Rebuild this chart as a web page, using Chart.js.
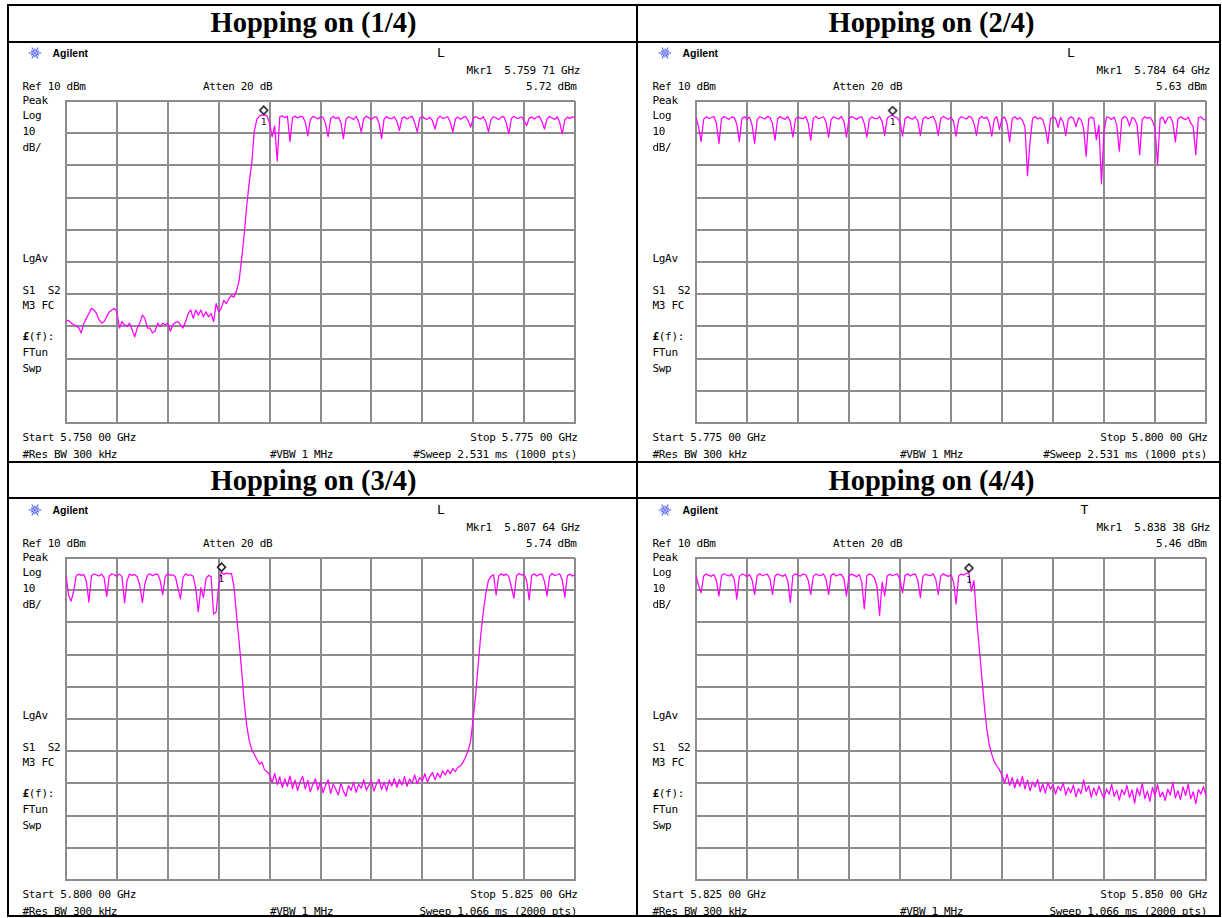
<!DOCTYPE html>
<html>
<head>
<meta charset="utf-8">
<title>Hopping on</title>
<script src="https://cdn.jsdelivr.net/npm/chart.js"></script>
<style>
  html, body { margin: 0; padding: 0; background: #fff; }
  #page { position: relative; width: 1222px; height: 918px; overflow: hidden; background: #fff; }
  .rule { position: absolute; background: #000; }
  .t { position: absolute; white-space: pre; font-family: "DejaVu Sans Mono", "Liberation Mono", monospace;
       font-size: 11px; letter-spacing: -0.32px; line-height: 1; color: #000; }
  .t b { font-weight: bold; }
  .mk { position: absolute; white-space: pre; font-family: "DejaVu Sans Mono", monospace; font-size: 9px; line-height: 1; color: #000; }
  .brand { position: absolute; white-space: pre; font-family: "Liberation Sans", Arial, sans-serif; font-weight: bold;
           font-size: 10.5px; line-height: 1; color: #000; }
  .flag { position: absolute; white-space: pre; font-family: "DejaVu Sans Mono", monospace; font-size: 13px; line-height: 1; color: #000; }
  .ttl { position: absolute; white-space: pre; font-family: "Liberation Serif", "Times New Roman", serif; font-weight: bold;
         font-size: 28.5px; line-height: 1; color: #000; }
  canvas.plot { position: absolute; }
  svg.logo { position: absolute; }
</style>
</head>
<body>
<div id="page"></div>
<script>
// ---- sweep settings (MHz) ----
const freqStartMHz = [5750, 5775, 5800, 5825];
const freqStopMHz  = [5775, 5800, 5825, 5850];
const sweepStepMHz = 0.125;            // 201 display bins per 25 MHz span
const refLevel = 10, dbPerDiv = 10, divisions = 10;

// ---- trace levels (dBm), one value per display bin ----
const traceHop1 = [
  -58.4,-58.1,-59.0,-59.4,-59.8,-60.5,-62.0,-59.0,-57.5,-56.0,
  -54.4,-54.9,-56.0,-58.0,-59.0,-58.5,-56.9,-55.5,-54.9,-54.4,
  -55.5,-60.5,-58.5,-59.5,-60.0,-59.0,-61.1,-63.2,-60.5,-59.0,
  -56.5,-57.5,-60.5,-60.5,-62.0,-61.5,-59.0,-60.0,-59.0,-59.5,
  -59.0,-61.5,-59.5,-58.8,-58.5,-59.5,-60.5,-58.5,-56.0,-54.9,
  -57.5,-54.9,-56.5,-54.9,-57.0,-55.5,-57.0,-56.0,-58.5,-52.9,
  -55.5,-54.4,-51.9,-52.9,-51.4,-50.4,-50.9,-48.9,-45.9,-39.2,
  -31.7,-22.7,-15.2,-9.2,0.7,4.3,5.4,5.6,5.7,5.4,
  3.1,-1.1,2.2,-8.6,5.1,5.4,4.8,5.3,-2.6,4.8,
  5.3,4.7,5.2,5.1,3.5,-0.8,4.2,5.2,4.9,4.4,
  5.1,5.0,2.9,-1.1,4.6,5.2,4.5,5.0,3.4,-1.7,
  4.3,5.1,4.7,4.3,5.2,3.6,0.4,4.5,5.3,4.8,
  4.2,5.0,5.1,3.1,-1.7,4.4,5.2,4.6,4.5,5.1,
  3.7,0.8,4.6,5.1,4.4,4.9,5.2,3.3,0.4,4.7,
  5.2,4.5,4.3,5.0,3.8,1.3,4.5,5.3,4.6,4.8,
  5.1,3.4,0.4,4.4,5.0,4.3,4.9,5.2,3.9,1.9,
  4.6,5.2,4.7,4.4,5.1,3.5,0.4,4.3,5.1,4.8,
  4.2,5.0,5.2,3.2,-0.2,4.5,5.3,4.6,4.7,5.1,
  3.9,2.3,4.7,5.0,4.4,5.0,5.2,3.6,1.3,4.4,
  5.2,4.7,4.3,5.1,3.3,-0.2,4.1,5.0,4.6,5.1,
  4.9
];
const traceHop2 = [
  4.8,2.0,-2.6,4.3,5.1,4.6,4.8,5.2,3.1,-3.2,
  4.5,5.2,4.7,4.3,5.0,4.9,2.8,-2.6,4.6,5.1,
  4.4,5.0,2.5,-3.2,4.2,5.1,4.8,4.4,5.2,4.9,
  3.0,-2.2,4.5,5.2,4.6,4.4,5.1,3.6,-1.2,4.4,
  5.0,4.7,4.5,5.2,3.2,-2.2,4.6,5.3,4.5,4.8,
  5.1,3.5,-1.2,4.3,5.1,4.7,4.4,5.2,3.7,-1.2,
  4.5,5.2,4.8,4.3,4.9,5.1,3.0,-1.2,4.4,5.0,
  4.6,4.5,5.2,3.6,-0.7,4.7,5.3,5.6,5.0,4.8,
  3.4,-0.9,4.5,5.2,4.6,4.4,5.1,3.8,-0.7,4.4,
  5.1,4.5,4.9,5.2,3.5,-0.7,4.6,5.2,4.7,4.3,
  5.0,3.6,-0.9,4.3,5.1,4.8,4.4,5.2,4.9,3.1,
  -0.7,4.5,5.2,4.6,5.0,3.4,-0.9,4.4,5.1,1.2,
  4.6,5.0,3.0,-2.7,4.5,5.1,4.3,4.9,4.0,2.0,
  -13.2,-2.7,4.6,5.2,4.4,4.8,4.2,1.5,-3.2,4.5,
  5.0,4.7,1.8,4.9,3.4,-0.7,4.4,5.1,4.6,2.0,
  4.8,4.2,1.5,-7.2,4.5,5.0,4.6,-2.0,2.5,-15.7,
  0.5,5.1,4.8,4.3,5.0,2.6,-5.6,4.4,5.2,4.7,
  2.2,4.9,4.5,2.5,-6.7,4.3,5.1,4.6,4.9,3.8,
  1.5,-9.7,4.5,5.0,3.0,4.8,5.1,3.3,-2.7,4.4,
  5.1,4.6,4.2,5.0,3.2,2.0,-6.7,4.8,5.1,4.2,
  4.1
];
const traceHop3 = [
  4.6,-1.5,-3.4,-0.4,4.4,5.0,4.6,4.9,2.8,-3.7,
  4.5,5.1,4.7,4.4,5.0,3.8,-1.9,4.4,5.1,4.8,
  4.3,5.0,4.2,-3.9,3.0,5.0,4.6,4.9,4.2,1.5,
  -3.8,2.0,4.7,5.1,4.5,4.9,5.0,3.0,-1.4,4.3,
  5.1,4.6,4.8,4.2,0.5,-2.7,4.0,5.1,4.6,4.8,
  4.3,0.5,-6.7,0.8,-2.3,3.5,4.6,4.2,-7.4,-6.8,
  1.5,5.7,4.9,5.3,5.1,5.2,1.1,-7.7,-15.8,-24.8,
  -34.7,-42.0,-46.8,-49.5,-51.0,-52.5,-54.0,-53.4,-55.8,-56.4,
  -57.2,-59.8,-56.9,-60.4,-58.0,-61.3,-58.6,-60.9,-57.7,-61.6,
  -59.0,-62.2,-59.5,-57.8,-61.7,-59.1,-62.6,-60.3,-58.6,-62.0,
  -59.4,-62.9,-60.6,-58.9,-63.1,-60.2,-61.8,-63.6,-60.0,-62.4,
  -64.0,-60.7,-62.2,-59.6,-62.8,-60.3,-61.5,-58.9,-62.1,-60.6,
  -59.3,-62.4,-60.1,-58.7,-61.9,-59.6,-62.3,-59.0,-60.8,-58.5,
  -61.2,-58.8,-60.5,-57.9,-60.9,-58.6,-59.9,-57.4,-60.1,-58.2,
  -59.3,-57.0,-59.6,-57.8,-56.6,-58.9,-56.8,-58.2,-56.1,-57.4,
  -55.8,-57.0,-55.4,-56.3,-55.0,-54.6,-53.4,-51.9,-49.8,-46.8,
  -39.8,-32.3,-22.7,-13.7,-6.5,-0.8,3.1,4.3,4.8,-1.5,
  4.4,5.1,4.6,5.0,4.2,1.0,-2.5,4.5,5.2,4.7,
  4.9,3.0,-3.0,4.6,5.1,4.4,4.9,5.0,2.8,-1.8,
  4.3,5.2,4.6,4.8,5.1,3.2,-2.2,4.5,5.0,4.4,
  4.8
];
const traceHop4 = [
  4.6,1.5,-0.8,4.4,5.0,4.6,4.3,4.9,3.0,-1.8,
  4.5,5.1,4.7,4.4,5.0,3.4,-2.8,4.3,5.0,4.8,
  4.2,4.9,3.2,-1.3,4.6,5.1,4.5,4.8,5.0,3.5,
  -1.3,4.4,5.0,4.7,4.3,4.9,2.9,-3.8,4.5,5.1,
  4.6,4.4,5.0,4.8,3.1,-1.3,4.3,5.0,4.7,4.5,
  5.1,3.3,-1.3,4.6,5.1,4.4,4.8,4.9,3.6,-1.8,
  4.4,5.0,4.6,4.2,4.9,2.5,-5.8,4.5,5.1,4.7,
  3.8,1.0,-7.8,2.5,-1.8,4.4,5.0,4.5,4.8,5.1,
  3.2,-0.8,4.6,5.1,4.4,4.9,5.0,3.0,-2.3,4.3,
  5.0,4.7,4.5,5.1,3.4,-1.3,4.5,5.1,4.6,4.3,
  4.8,2.6,-4.3,4.4,5.0,4.7,5.2,5.4,-0.3,3.0,
  -8.5,-17.3,-26.3,-35.3,-42.9,-48.0,-51.0,-53.4,-54.6,-55.8,
  -57.4,-59.9,-57.1,-60.6,-58.2,-61.4,-58.7,-60.9,-57.8,-61.7,
  -59.0,-62.3,-59.6,-61.1,-58.8,-62.6,-60.2,-63.0,-59.7,-61.8,
  -60.4,-63.3,-60.9,-62.2,-59.8,-63.6,-61.3,-62.9,-60.5,-64.1,
  -61.6,-63.2,-58.9,-62.5,-60.7,-64.3,-61.4,-63.7,-60.8,-62.9,
  -64.6,-61.7,-63.4,-60.3,-64.0,-62.1,-65.2,-61.9,-63.5,-60.6,
  -64.4,-62.0,-66.1,-61.5,-63.8,-59.9,-64.7,-62.4,-65.6,-61.2,
  -63.9,-60.4,-64.2,-62.7,-65.3,-61.8,-63.6,-59.6,-64.5,-62.3,
  -65.0,-61.1,-63.7,-60.2,-64.8,-62.6,-66.3,-61.9,-63.3,-61.0,
  -63.8
];
const traces = [traceHop1, traceHop2, traceHop3, traceHop4];

// ---- marker 1 readout ----
const markerFreqMHz  = [5759.71, 5784.64, 5807.64, 5838.38];
const markerLevelDbm = [5.72, 5.63, 5.74, 5.46];
const markerFreqText = ['5.759 71 GHz', '5.784 64 GHz', '5.807 64 GHz', '5.838 38 GHz'];

// ---- annotation text ----
const panelTitles = ['Hopping on (1/4)', 'Hopping on (2/4)', 'Hopping on (3/4)', 'Hopping on (4/4)'];
const startText = ['Start 5.750 00 GHz', 'Start 5.775 00 GHz', 'Start 5.800 00 GHz', 'Start 5.825 00 GHz'];
const stopText  = ['Stop 5.775 00 GHz', 'Stop 5.800 00 GHz', 'Stop 5.825 00 GHz', 'Stop 5.850 00 GHz'];
const sweepText = ['#Sweep 2.531 ms (1000 pts)', '#Sweep 2.531 ms (1000 pts)',
                   'Sweep 1.066 ms (2000 pts)', 'Sweep 1.066 ms (2000 pts)'];
const triggerFlag = ['L', 'L', 'L', 'T'];
const sideLabels = [['Peak', 100], ['Log', 115], ['10', 131], ['dB/', 146.5], ['LgAv', 257.5],
                    ['S1  S2', 289.5], ['M3 FC', 304.5], ['<b>£</b>(f):', 336], ['FTun', 351.5], ['Swp', 367.5]];

// ---- page geometry ----
const cellOffset = [[0, 0], [630, 0], [0, 457], [630, 457]];
const gridBox = [[61, 96, 519, 332], [691, 96, 520, 332], [61, 553, 519, 332], [691, 553, 520, 332]];
const titleCenter = [[313.5, 23.3], [931.5, 23.3], [313.5, 481], [931.5, 481]];
const flagX = [441, 441, 441, 454.5];
const tableRules = [
  [7, 4, 1214, 2], [7, 915, 1214, 2], [7, 4, 2, 913], [1219, 4, 2, 913],
  [636, 4, 2, 913], [7, 41, 1214, 2], [7, 461, 1214, 2], [7, 497, 1214, 2]
];

const page = document.getElementById('page');

function addBox(cls, x, y, w, h) {
  const d = document.createElement('div');
  d.className = cls;
  Object.assign(d.style, { left: x + 'px', top: y + 'px', width: w + 'px', height: h + 'px' });
  page.appendChild(d);
}

function addText(str, x, y, cls, align, asHtml) {
  const d = document.createElement('div');
  d.className = cls;
  if (asHtml) d.innerHTML = str; else d.textContent = str;
  d.style.left = x + 'px';
  d.style.top = y + 'px';
  const tx = align === 'r' ? '-100%' : (align === 'c' ? '-50%' : '0');
  d.style.transform = 'translate(' + tx + ',-50%)';
  page.appendChild(d);
  return d;
}

function addLogo(cx, cy) {
  const ns = 'http://www.w3.org/2000/svg';
  const s = document.createElementNS(ns, 'svg');
  s.setAttribute('class', 'logo');
  s.setAttribute('width', '14'); s.setAttribute('height', '14');
  s.setAttribute('viewBox', '-7 -7 14 14');
  s.style.left = (cx - 7) + 'px'; s.style.top = (cy - 7) + 'px';
  for (let k = 0; k < 12; k++) {
    const a = k * Math.PI / 6;
    const r1 = 1.6, r2 = (k % 2 === 0) ? 6.3 : 4.6;
    const l = document.createElementNS(ns, 'line');
    l.setAttribute('x1', (r1 * Math.cos(a)).toFixed(2)); l.setAttribute('y1', (r1 * Math.sin(a)).toFixed(2));
    l.setAttribute('x2', (r2 * Math.cos(a)).toFixed(2)); l.setAttribute('y2', (r2 * Math.sin(a)).toFixed(2));
    l.setAttribute('stroke', '#5566ee'); l.setAttribute('stroke-width', '1.1');
    s.appendChild(l);
  }
  const c = document.createElementNS(ns, 'circle');
  c.setAttribute('r', '1.1'); c.setAttribute('fill', '#5566ee');
  s.appendChild(c);
  page.appendChild(s);
}

// diamond drawn in the upper half of the sprite so it sits just above the trace point
function markerSprite() {
  const c = document.createElement('canvas');
  c.width = 11; c.height = 19;
  const g = c.getContext('2d');
  g.fillStyle = '#fff'; g.strokeStyle = '#000'; g.lineWidth = 1.4;
  g.beginPath();
  g.moveTo(5.5, 1); g.lineTo(9.5, 5); g.lineTo(5.5, 9); g.lineTo(1.5, 5); g.closePath();
  g.fill(); g.stroke();
  return c;
}
const sprite = markerSprite();

tableRules.forEach(r => addBox('rule', r[0], r[1], r[2], r[3]));

const GRID = '#8c8c8c';

for (let p = 0; p < 4; p++) {
  const [ox, oy] = cellOffset[p];
  const [gx, gy, gw, gh] = gridBox[p];

  addText(panelTitles[p], titleCenter[p][0], titleCenter[p][1], 'ttl', 'c');
  addLogo(35 + ox, 52.5 + oy);
  addText('Agilent', 52.5 + ox, 52.5 + oy, 'brand', 'l');
  addText(triggerFlag[p], flagX[p] + ox, 52 + oy, 'flag', 'c');
  addText('Mkr1  ' + markerFreqText[p], 580 + ox, 69.5 + oy, 't', 'r');
  addText('Ref ' + refLevel + ' dBm', 22.5 + ox, 86 + oy, 't', 'l');
  addText('Atten 20 dB', 203 + ox, 86 + oy, 't', 'l');
  addText(markerLevelDbm[p].toFixed(2) + ' dBm', 576.5 + ox, 86 + oy, 't', 'r');
  sideLabels.forEach(([s, y]) => addText(s, 22.5 + ox, y + oy, 't', 'l', true));
  addText(startText[p], 22.5 + ox, 437 + oy, 't', 'l');
  addText(stopText[p], 577.5 + ox, 437 + oy, 't', 'r');
  addText('#Res BW 300 kHz', 22.5 + ox, 453.5 + oy, 't', 'l');
  addText('#VBW 1 MHz', 270 + ox, 453.5 + oy, 't', 'l');
  addText(sweepText[p], 577 + ox, 453.5 + oy, 't', 'r');

  const pad = 2;
  const cv = document.createElement('canvas');
  cv.className = 'plot';
  cv.width = gw + 2 * pad; cv.height = gh + 2 * pad;
  cv.style.left = (gx - pad) + 'px'; cv.style.top = (gy - pad) + 'px';
  cv.style.width = cv.width + 'px'; cv.style.height = cv.height + 'px';
  page.appendChild(cv);

  const pts = traces[p].map((v, i) => ({ x: freqStartMHz[p] + i * sweepStepMHz, y: v }));
  const axisCommon = {
    ticks: { display: false },
    grid: { color: GRID, lineWidth: 2, drawTicks: false },
    border: { display: true, color: GRID, width: 2 }
  };

  const chart = new Chart(cv, {
    type: 'line',
    data: {
      datasets: [
        { type: 'scatter', data: [{ x: markerFreqMHz[p], y: markerLevelDbm[p] }],
          pointStyle: sprite, pointRadius: 6, showLine: false, order: 0 },
        { data: pts, borderColor: '#ff00ff', borderWidth: 1.25, pointRadius: 0,
          tension: 0, borderJoinStyle: 'round', order: 1 }
      ]
    },
    options: {
      responsive: false, animation: false, events: [],
      layout: { padding: pad },
      plugins: { legend: { display: false }, tooltip: { enabled: false } },
      scales: {
        x: Object.assign({ type: 'linear', min: freqStartMHz[p], max: freqStopMHz[p] }, axisCommon,
             { ticks: { display: false, stepSize: (freqStopMHz[p] - freqStartMHz[p]) / divisions } }),
        y: Object.assign({ type: 'linear', min: refLevel - dbPerDiv * divisions, max: refLevel }, axisCommon,
             { ticks: { display: false, stepSize: dbPerDiv } })
      }
    }
  });

  // marker number under the diamond
  const mx = chart.scales.x.getPixelForValue(markerFreqMHz[p]) + gx - pad;
  const my = chart.scales.y.getPixelForValue(markerLevelDbm[p]) + gy - pad;
  addText('1', mx, my + 7, 'mk', 'c');
}
</script>
</body>
</html>
